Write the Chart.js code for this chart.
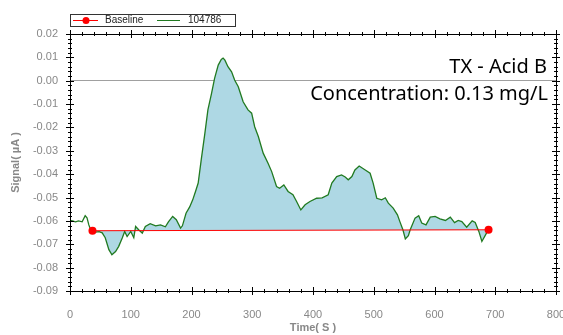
<!DOCTYPE html>
<html lang="en">

<head>
    <meta charset="UTF-8">
    <title>TX - Acid B</title>
    <script src="https://cdn.jsdelivr.net/npm/chart.js@4"></script>
    <style>
        html, body { margin: 0; padding: 0; background: #fff; }
        .chart-container { width: 563px; height: 335px; }
    </style>
</head>

<body>
    <div class="chart-container">
        <canvas id="signalChart"></canvas>
    </div>

    <script>
        // time (s) and signal (uA)
        const times = [0, 4, 9, 14, 20, 25, 28, 31, 34, 37, 42, 48, 53, 58, 64, 69, 75, 80, 86, 90,
            94, 100, 105, 108, 113, 119, 124, 132, 141, 149, 157, 162, 169, 175, 182, 185, 191, 197, 202, 207,
            211, 216, 222, 227, 233, 238, 244, 249, 252, 255, 260, 266, 271, 277, 285, 293, 299, 304, 310, 318,
            326, 332, 340, 345, 352, 359, 367, 373, 380, 387, 395, 406, 415, 425, 431, 439, 447, 453, 458, 464,
            469, 476, 486, 494, 499, 505, 513, 519, 524, 532, 539, 543, 548, 552, 557, 560, 568, 574, 579, 586,
            593, 601, 609, 618, 626, 633, 639, 645, 653, 662, 667, 673, 678, 684, 689];
        const signal = [-0.0598, -0.0600, -0.0604, -0.0600, -0.0604, -0.0578, -0.0587, -0.0617, -0.0638, -0.0645,
            -0.0648, -0.0646, -0.0651, -0.0672, -0.0723, -0.0745, -0.0731, -0.0710, -0.0673, -0.0645,
            -0.0667, -0.0645, -0.0672, -0.0624, -0.0638, -0.0652, -0.0624, -0.0612, -0.0621, -0.0617,
            -0.0625, -0.0604, -0.0581, -0.0595, -0.0631, -0.0621, -0.0567, -0.0540, -0.0510, -0.0471,
            -0.0438, -0.0339, -0.0225, -0.0125, -0.0054, 0.0010, 0.0067, 0.0091, 0.0097, 0.0088,
            0.0060, 0.0038, 0.0003, -0.0026, -0.0090, -0.0125, -0.0139, -0.0197, -0.0239, -0.0310,
            -0.0353, -0.0389, -0.0453, -0.0460, -0.0446, -0.0474, -0.0488, -0.0517, -0.0553, -0.0531,
            -0.0517, -0.0503, -0.0501, -0.0488, -0.0438, -0.0410, -0.0403, -0.0412, -0.0424, -0.0410,
            -0.0382, -0.0365, -0.0382, -0.0396, -0.0438, -0.0503, -0.0510, -0.0501, -0.0524, -0.0545,
            -0.0574, -0.0603, -0.0638, -0.0677, -0.0663, -0.0638, -0.0588, -0.0578, -0.0609, -0.0617,
            -0.0584, -0.0581, -0.0591, -0.0598, -0.0584, -0.0607, -0.0598, -0.0603, -0.0627, -0.0600,
            -0.0607, -0.0645, -0.0688, -0.0660, -0.0636];

        // baseline end points
        const baselineTimes = [37, 689];
        const baselineValues = [-0.0642, -0.0638];

        const xTicks = [0, 100, 200, 300, 400, 500, 600, 700, 800];
        const yTicks = [0.02, 0.01, 0.00, -0.01, -0.02, -0.03, -0.04, -0.05, -0.06, -0.07, -0.08, -0.09];

        const seriesName = "104786";
        const titleLines = ["TX - Acid B", "Concentration: 0.13 mg/L"];

        const curvePoints = times.map((t, i) => ({ x: t, y: signal[i] }));
        const areaPoints = curvePoints.filter(p => p.x >= baselineTimes[0] && p.x <= baselineTimes[1]);
        const baselinePoints = baselineTimes.map((t, i) => ({ x: t, y: baselineValues[i] }));

        const green = "#217a21";
        const red = "#ff0000";

        // box with in/out ticks on all four sides
        const framePlugin = {
            id: "frame",
            afterDatasetsDraw(chart) {
                const { ctx, chartArea: a, scales: { x, y } } = chart;
                ctx.save();
                ctx.strokeStyle = "#000";
                ctx.lineWidth = 1;
                ctx.strokeRect(a.left + 0.5, a.top + 0.5, a.right - a.left, a.bottom - a.top);
                ctx.beginPath();
                for (let v = xTicks[0]; v <= xTicks[xTicks.length - 1]; v += 20) {
                    const px = Math.round(x.getPixelForValue(v)) + 0.5;
                    const major = v % 100 === 0;
                    const len = major ? 4 : 2;
                    ctx.moveTo(px, a.bottom - len); ctx.lineTo(px, a.bottom + len);
                    ctx.moveTo(px, a.top - len); ctx.lineTo(px, a.top + len);
                }
                for (let k = 0; k <= 55; k++) {
                    const v = -0.09 + k * 0.002;
                    const py = Math.round(y.getPixelForValue(v)) + 0.5;
                    const len = k % 5 === 0 ? 4 : 2;
                    ctx.moveTo(a.left - len, py); ctx.lineTo(a.left + len, py);
                    ctx.moveTo(a.right - len, py); ctx.lineTo(a.right + len, py);
                }
                ctx.stroke();

                // title text
                ctx.fillStyle = "#000";
                ctx.font = "20px 'Noto Sans'";
                ctx.textAlign = "right";
                ctx.textBaseline = "alphabetic";
                ctx.fillText(titleLines[0], 547, 73);
                ctx.fillText(titleLines[1], 548, 100);

                // legend box
                ctx.fillStyle = "#fff";
                ctx.fillRect(70, 14, 165, 13);
                ctx.strokeStyle = "#333";
                ctx.strokeRect(70.5, 14.5, 165, 12);
                ctx.lineWidth = 1;
                ctx.strokeStyle = red;
                ctx.beginPath(); ctx.moveTo(73, 20.5); ctx.lineTo(98, 20.5); ctx.stroke();
                ctx.fillStyle = red;
                ctx.beginPath(); ctx.arc(86, 20.5, 3.5, 0, Math.PI * 2); ctx.fill();
                ctx.strokeStyle = green;
                ctx.beginPath(); ctx.moveTo(157, 20.5); ctx.lineTo(180, 20.5); ctx.stroke();
                ctx.fillStyle = "#222";
                ctx.font = "10px 'Liberation Sans'";
                ctx.textAlign = "left";
                ctx.textBaseline = "middle";
                ctx.fillText(chart.data.datasets[0].label, 105, 20);
                ctx.fillText(chart.data.datasets[1].label, 188, 20);
                ctx.restore();
            }
        };

        const ctx = document.getElementById("signalChart").getContext("2d");
        const signalChart = new Chart(ctx, {
            type: "line",
            data: {
                datasets: [
                    {
                        label: "Baseline",
                        data: baselinePoints,
                        borderColor: red,
                        backgroundColor: red,
                        borderWidth: 1,
                        pointRadius: 4,
                        pointBorderWidth: 0,
                        order: 0,
                    },
                    {
                        label: seriesName,
                        data: curvePoints,
                        borderColor: green,
                        borderWidth: 1.3,
                        pointRadius: 0,
                        tension: 0,
                        order: 1,
                    },
                    {
                        label: "area",
                        data: areaPoints,
                        borderWidth: 0,
                        borderColor: "rgba(0,0,0,0)",
                        pointRadius: 0,
                        fill: { target: 0, above: "#aed8e4", below: "#aed8e4" },
                        order: 2,
                    },
                ],
            },
            options: {
                responsive: true,
                maintainAspectRatio: false,
                animation: false,
                layout: { padding: { top: 34, right: 7, left: 0, bottom: 0 } },
                plugins: {
                    legend: { display: false },
                    tooltip: { enabled: false },
                },
                scales: {
                    x: {
                        type: "linear",
                        min: 0,
                        max: 800,
                        afterBuildTicks: s => { s.ticks = xTicks.map(v => ({ value: v })); },
                        ticks: { color: "#888", font: { family: "Liberation Sans", size: 11 }, padding: 9, maxRotation: 0 },
                        grid: { display: false },
                        border: { display: false },
                        title: { display: true, text: "Time( S )", color: "#888", font: { family: "Liberation Sans", size: 11, weight: "bold" }, padding: { top: 3, bottom: 0 } },
                        afterFit: s => { s.height = 44; s.paddingLeft = 0; s.paddingRight = 0; },
                    },
                    y: {
                        min: -0.09,
                        max: 0.02,
                        afterBuildTicks: s => { s.ticks = yTicks.map(v => ({ value: v })); },
                        ticks: {
                            color: "#888",
                            font: { family: "Liberation Sans", size: 11 },
                            padding: 12,
                            callback: v => (Math.abs(v) < 1e-9 ? 0 : v).toFixed(2),
                        },
                        grid: {
                            drawTicks: false,
                            color: c => (c.tick && Math.abs(c.tick.value) < 1e-9 ? "#a0a0a0" : "rgba(0,0,0,0)"),
                        },
                        border: { display: false },
                        title: { display: true, text: "Signal( µA )", color: "#888", font: { family: "Liberation Sans", size: 11, weight: "bold" }, padding: { top: 9, bottom: 0 } },
                        afterFit: s => { s.width = 70; s.paddingTop = 0; s.paddingBottom = 0; },
                    },
                },
            },
            plugins: [framePlugin],
        });
    </script>
</body>

</html>
